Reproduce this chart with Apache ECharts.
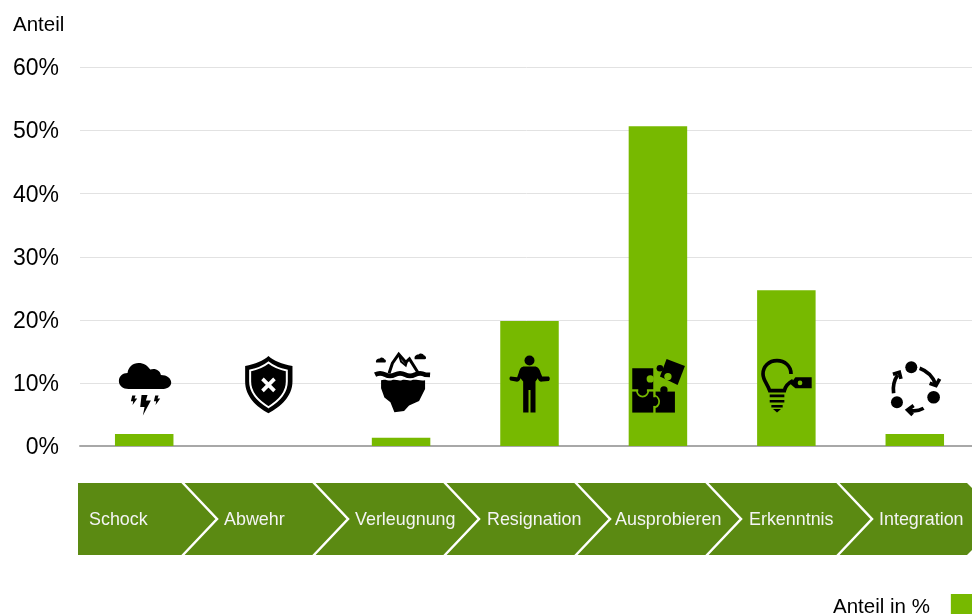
<!DOCTYPE html>
<html lang="de">
<head>
<meta charset="utf-8">
<title>Anteil je Phase</title>
<style>
  html, body { margin: 0; padding: 0; background: #fff; overflow: hidden; }
  #chart { width: 972px; height: 614px; }
</style>
<script src="https://cdn.jsdelivr.net/npm/echarts@6/dist/echarts.min.js"></script>
</head>
<body>
<div id="chart"></div>
<script>
// Phases of the change curve and the share of answers in each
const categories = ['Schock', 'Abwehr', 'Verleugnung', 'Resignation', 'Ausprobieren', 'Erkenntnis', 'Integration'];
const shareValues = [1.9, 0, 1.3, 19.8, 50.7, 24.7, 1.9];
const seriesName = 'Anteil in %';
const axisName = 'Anteil';
const yTickValues = [0, 10, 20, 30, 40, 50, 60];

const BAR = '#77b900';
const BAND = '#5b8a12';
const INK = '#000000';
const circle = (x, y, r) => `M${x - r},${y} A${r},${r} 0 1 0 ${x + r},${y} A${r},${r} 0 1 0 ${x - r},${y} Z`;

// Pictograms, one per phase. Paths use a 3-units-per-pixel local grid.
const icons = [
  { dx: -34, dy: -28, parts: [
    { d: 'M55,102 C38,102 26,92 26,78 C26,64 37,54 52,54 C54,36 68,24 85,24 C100,24 113,32 120,44 C134,38 150,46 152,60 C170,60 183,70 183,83 C183,94 173,102 160,102 Z', fill: INK },
    { d: 'M94,120 L112,120 L107,137 L122,137 L98,182 L103,156 L90,156 Z', fill: INK },
    { d: 'M66,122 L76,122 L73,131 L81,131 L67,150 L69,139 L62,139 Z', fill: INK },
    { d: 'M135,122 L145,122 L142,131 L150,131 L136,150 L138,139 L131,139 Z', fill: INK }
  ] },
  { dx: -37.5, dy: -33, parts: [
    { d: 'M100,18 C115,32 140,42 172,48 L172,95 C172,140 135,172 100,190 C65,172 30,140 30,95 L30,48 C60,42 85,32 100,18 Z', fill: INK },
    { d: 'M100,38 C115,50 135,58 155,62 L155,95 C155,130 128,155 100,172 C72,155 45,130 45,95 L45,62 C65,58 85,50 100,38 Z', stroke: '#fff', width: 6 },
    { d: 'M82,87 L118,123 M118,87 L82,123', stroke: '#fff', width: 11 }
  ] },
  { dx: -36, dy: -38, parts: [
    { d: 'M30,89 C40,84 50,84 60,89 C70,94 80,94 90,89 C100,84 110,84 120,89 C130,94 140,94 150,89 C160,84 170,84 180,89 L195,90', stroke: INK, width: 14 },
    { d: 'M48,106 C60,101 70,109 80,106 C90,102 100,109 110,106 C120,102 130,109 140,106 C150,102 165,109 180,106 L180,132 L162,168 L132,182 L117,198 L88,202 L76,172 L58,158 L48,130 Z', fill: INK },
    { d: 'M72,85 L82,55 L101,28 L122,52 L133,42 L160,85', stroke: INK, width: 9 },
    { d: 'M101,28 L108,50 L122,62 L125,52', stroke: INK, width: 6 },
    { d: 'M33,53 C31,45 38,41 44,41 C47,35 56,37 58,43 C64,44 64,53 59,53 Z', fill: INK },
    { d: 'M149,43 C146,34 154,29 160,29 C164,23 175,25 176,31 C183,32 186,43 179,43 Z', fill: INK }
  ] },
  { dx: -29, dy: -33, parts: [
    { d: circle(87, 32, 15), fill: INK },
    { d: 'M72,50 L102,50 C112,50 118,58 120,68 L125,80 L145,80 C149,84 149,90 145,93 L125,95 C118,96 114,92 112,85 L105,95 L105,188 L90,188 L90,120 L84,120 L84,188 L68,188 L68,95 L60,85 C58,92 54,96 46,95 L30,92 C26,90 26,82 30,80 L50,82 L55,68 C58,56 62,50 72,50 Z', fill: INK }
  ] },
  { dx: -33, dy: -33, parts: [
    { d: 'M22,55 H85 V118 H22 Z', fill: INK },
    { d: circle(76, 87, 11), fill: BAR },
    { d: 'M22,125 H85 V188 H22 Z', fill: INK },
    { d: 'M40,115 H66 V128 H40 Z', fill: INK },
    { d: 'M36,123 A17,17 0 0 0 70,123', stroke: BAR, width: 5 },
    { d: 'M92,125 H150 V188 H92 Z', fill: INK },
    { d: circle(117, 120, 11), fill: INK },
    { d: 'M83,142 H94 V168 H83 Z', fill: INK },
    { d: 'M90,137 A19,19 0 0 1 90,173', stroke: BAR, width: 5 },
    { d: 'M125,27 L180,48 L158,105 L105,80 Z', fill: INK },
    { d: circle(105, 55, 10), fill: INK },
    { d: circle(129, 80, 11), fill: BAR }
  ] },
  { dx: -36, dy: -33, parts: [
    { d: 'M122,72 C122,48 103,32 80,32 C55,32 38,50 38,72 C38,90 50,100 58,122 L102,122 C105,108 112,100 128,92', stroke: INK, width: 11 },
    { d: 'M58,138 H102 M58,154 H102 M63,169 H97', stroke: INK, width: 8 },
    { d: 'M68,177 H92 L80,188 Z', fill: INK },
    { d: 'M135,82 H184 V115 H135 L120,102 Z', fill: INK },
    { d: circle(149, 99, 7), fill: BAR }
  ] },
  { dx: -34.5, dy: -28, parts: [
    { d: circle(93, 37, 18), fill: INK },
    { d: circle(160, 127, 19), fill: INK },
    { d: circle(50, 142, 18), fill: INK },
    { d: 'M118,40 C140,48 158,66 166,88', stroke: INK, width: 11 },
    { d: 'M178,72 L167,92 L148,85', stroke: INK, width: 11 },
    { d: 'M130,160 C116,168 100,170 85,166', stroke: INK, width: 11 },
    { d: 'M100,152 L82,165 L97,180', stroke: INK, width: 11 },
    { d: 'M40,115 C37,95 42,75 52,60', stroke: INK, width: 11 },
    { d: 'M38,58 L57,52 L62,72', stroke: INK, width: 11 }
  ] }
];

// Chevron band underneath the plot
const bandTop = 483, bandBottom = 555, bandMid = 519;
const bandLeft = 78, firstFold = 182, foldStep = 131, foldDepth = 35;
const labelLefts = [89, 224, 355, 487, 615, 749, 879];

const bandGraphics = [{
  type: 'polygon', silent: true,
  shape: { points: [[bandLeft, bandTop], [967, bandTop], [1003, bandMid], [967, bandBottom], [bandLeft, bandBottom]] },
  style: { fill: BAND }
}];
for (let i = 0; i < 6; i++) {
  const x = firstFold + i * foldStep;
  bandGraphics.push({
    type: 'polyline', silent: true,
    shape: { points: [[x, bandTop - 1], [x + foldDepth, bandMid], [x, bandBottom + 1]] },
    style: { stroke: '#fff', lineWidth: 2.5, fill: null }
  });
}
categories.forEach((name, i) => bandGraphics.push({
  type: 'text', silent: true, x: labelLefts[i], y: bandMid + 1,
  style: { text: name, fill: '#f4f4f4', font: '17.9px "Liberation Sans", Arial, sans-serif', verticalAlign: 'middle' }
}));

const chart = echarts.init(document.getElementById('chart'), null, { renderer: 'canvas' });
chart.setOption({
  animation: false,
  backgroundColor: '#fff',
  textStyle: { fontFamily: '"Liberation Sans", Arial, sans-serif', color: '#000' },
  grid: { left: 80, top: 67.5, width: 899, height: 378.5, outerBoundsMode: 'none' },
  legend: {
    data: [seriesName], left: 833, top: 594, align: 'right', itemWidth: 30, itemHeight: 26,
    icon: 'rect', itemGap: 0, padding: 0, selectedMode: false,
    textStyle: { fontSize: 20.5, color: '#000', padding: [0, 16, 0, 0] }
  },
  xAxis: {
    type: 'category', data: categories,
    axisLine: { lineStyle: { color: '#a8a8a8', width: 2 } },
    axisTick: { show: false }, axisLabel: { show: false }, splitLine: { show: false }
  },
  yAxis: {
    type: 'value', min: yTickValues[0], max: yTickValues[yTickValues.length - 1], interval: 10,
    name: axisName, nameLocation: 'end', nameGap: 32,
    nameTextStyle: { fontSize: 20.5, color: '#000', align: 'left', padding: [0, 0, 0, -67] },
    axisLine: { show: false }, axisTick: { show: false },
    axisLabel: {
      formatter: '{tick|{value}%}', margin: 21,
      rich: { tick: { fontSize: 23, color: '#000', padding: [3, 0, 0, 0] } }
    },
    splitLine: { lineStyle: { color: '#e2e2e2', width: 1 } }
  },
  series: [
    {
      name: seriesName, type: 'bar', data: shareValues, barWidth: 58.5,
      itemStyle: { color: BAR }
    },
    {
      name: 'Symbole', type: 'custom', silent: true, clip: false, z: 5,
      data: categories.map((_, i) => [i, 10]),
      encode: { x: 0, y: 1 },
      renderItem(params, api) {
        const at = api.coord([api.value(0), api.value(1)]);
        const icon = icons[params.dataIndex];
        return {
          type: 'group', x: at[0] + icon.dx, y: at[1] + icon.dy, scaleX: 1 / 3, scaleY: 1 / 3,
          children: icon.parts.map(p => ({
            type: 'path', shape: { pathData: p.d },
            style: { fill: p.fill || null, stroke: p.stroke || null, lineWidth: p.width || 0, lineJoin: 'miter', lineCap: 'butt' }
          }))
        };
      }
    }
  ],
  graphic: { elements: bandGraphics }
});
</script>
</body>
</html>
